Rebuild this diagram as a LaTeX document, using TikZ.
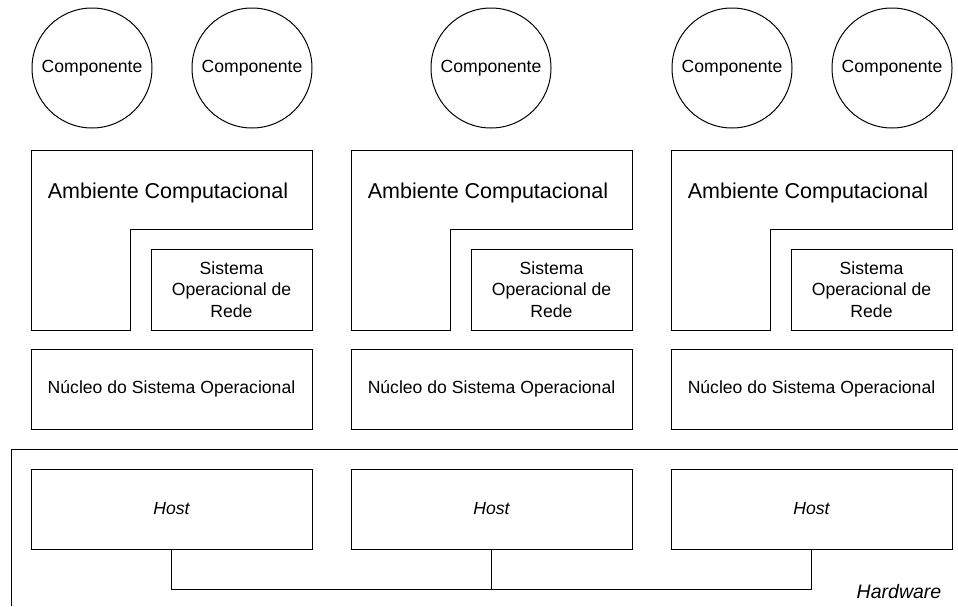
\documentclass[tikz,border=0pt]{standalone}
\usepackage{fontspec}
\setmainfont{Liberation Sans}

\begin{document}
\begin{tikzpicture} [x=1pt, y=-1pt, line width=1pt,
        every node/.style={draw, inner sep=0pt, align=center, font=\fontsize{17.6}{21.5}\selectfont},
        comp/.style={circle, minimum size=120pt},
        caixa/.style={rectangle, minimum width=281pt, minimum height=80pt},
        sor/.style={rectangle, minimum width=161pt, minimum height=81pt},
        rotulo/.style={draw=none, font=\fontsize{21.5}{26}\selectfont}]
            \useasboundingbox (0,0) rectangle (958,606);

            % componentes
            \node[comp] (c1) at (92, 68)  {Componente};
            \node[comp] (c2) at (252, 68) {Componente};
            \node[comp] (c3) at (491, 68) {Componente};
            \node[comp] (c4) at (732, 68) {Componente};
            \node[comp] (c5) at (892, 68) {Componente};

            % ambientes computacionais
            \draw (31,150) -- (312,150) -- (312,229) -- (130,229) -- (130,330) -- (31,330) -- cycle;
            \draw (351,150) -- (632,150) -- (632,229) -- (450,229) -- (450,330) -- (351,330) -- cycle;
            \draw (671,150) -- (952,150) -- (952,229) -- (770,229) -- (770,330) -- (671,330) -- cycle;
            \node[rotulo] (a1) at (168, 193) {Ambiente Computacional};
            \node[rotulo] (a2) at (488, 193) {Ambiente Computacional};
            \node[rotulo] (a3) at (808, 193) {Ambiente Computacional};

            \node[sor] (s1) at (231.5, 289.5) {Sistema\\Operacional de\\Rede};
            \node[sor] (s2) at (551.5, 289.5) {Sistema\\Operacional de\\Rede};
            \node[sor] (s3) at (871.5, 289.5) {Sistema\\Operacional de\\Rede};

            \node[caixa] (n1) at (171.5, 389) {Núcleo do Sistema Operacional};
            \node[caixa] (n2) at (491.5, 389) {Núcleo do Sistema Operacional};
            \node[caixa] (n3) at (811.5, 389) {Núcleo do Sistema Operacional};

            % hardware
            \draw (958,449) -| (11,606);
            \node[caixa] (h1) at (171.5, 509) {\itshape Host};
            \node[caixa] (h2) at (491.5, 509) {\itshape Host};
            \node[caixa] (h3) at (811.5, 509) {\itshape Host};
            \node[rotulo, font=\fontsize{19.5}{24}\selectfont] (hw) at (899, 592) {\itshape Hardware};

            \coordinate (bus) at (491.5, 589);
            \draw (h1.south) |- (bus) -| (h3.south);
            \draw (h2.south) -- (bus);
        \end{tikzpicture}
\end{document}
